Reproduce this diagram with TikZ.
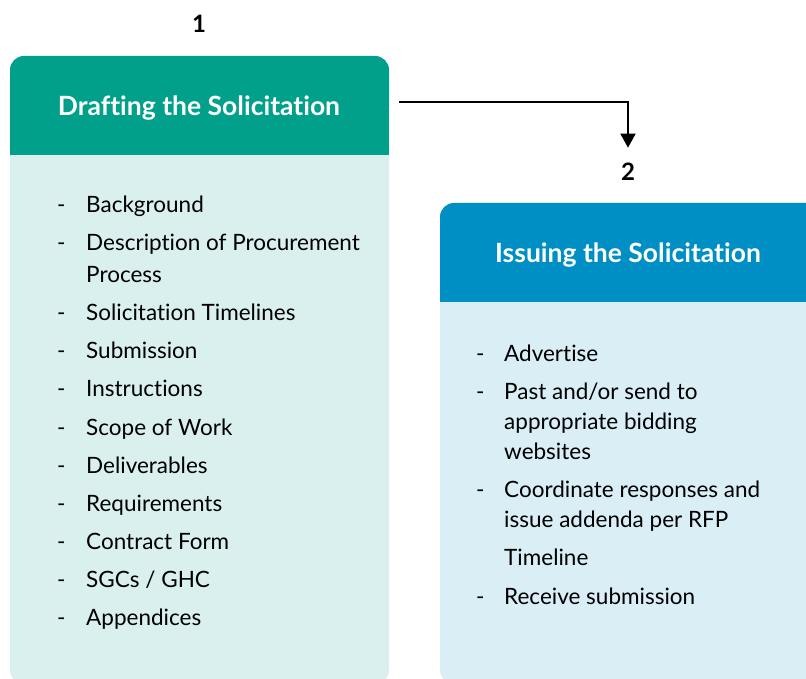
\documentclass[tikz,border=0pt]{standalone}
\usepackage{fontspec}
\setmainfont{Lato}[Ligatures=NoCommon]
\usetikzlibrary{arrows.meta}
\definecolor{tealhead}{HTML}{00A08A}
\definecolor{tealbody}{HTML}{DAF0EE}
\definecolor{bluehead}{HTML}{008FC5}
\definecolor{bluebody}{HTML}{DAEEF6}
\tikzset{
  title/.style={text=white,font=\fontsize{26.5}{30}\selectfont\bfseries},
  num/.style={font=\fontsize{24}{26}\selectfont\bfseries},
  item/.style={anchor=base west,inner sep=0pt,font=\fontsize{22.5}{26}\selectfont},
  dashmark/.style={anchor=base west,inner sep=0pt,font=\fontsize{22.5}{26}\selectfont},
}
\begin{document}
\begin{tikzpicture}[x=1pt,y=-1pt]
\useasboundingbox (0,0) rectangle (806,679);
\begin{scope}
\clip (0,0) rectangle (806,679);
% step 1 box
\fill [tealbody,rounded corners=14pt] (10,56) rectangle (389,684);
\fill [tealhead,rounded corners=14pt] (10,56) rectangle (389,120);
\fill [tealhead] (10,100) rectangle (389,155);
% step 2 box
\fill [bluebody,rounded corners=14pt] (440,203) rectangle (830,684);
\fill [bluehead,rounded corners=14pt] (440,203) rectangle (830,260);
\fill [bluehead] (440,240) rectangle (830,302);
\end{scope}
%
\node [num] (n1) at (199,24) {1};
\node [num] (n2) at (628,172) {2};
\node [title] (h1) at (199,108) {Drafting the Solicitation};
\node [title] (h2) at (628,255) {Issuing the Solicitation};
%
\coordinate (out1) at (399,102);
\draw [line width=1.5pt,-{Triangle[length=14pt,width=15pt]}] (out1) -| ([yshift=12pt]n2.north);
% drafting list
\foreach \i/\y in {1/213,2/251,4/320,5/358,6/396,7/435,8/473,9/511,10/549,11/587,12/625}
  \node [dashmark] (ld\i) at (57,\y) {-};
\foreach \i/\y/\t in {1/213/Background,2/251/Description of Procurement,3/282/Process,4/320/Solicitation Timelines,5/358/Submission,6/396/Instructions,7/435/Scope of Work,8/473/Deliverables,9/511/Requirements,10/549/Contract Form,11/587/{SGCs / GHC},12/625/Appendices}
  \node [item] (l\i) at (86,\y) {\t};
% issuing list
\foreach \i/\y in {1/361,2/399,5/497,8/604}
  \node [dashmark] (rd\i) at (476,\y) {-};
\foreach \i/\y/\t in {1/361/Advertise,2/399/{Past and/or send to},3/429/appropriate bidding,4/459/websites,5/497/Coordinate responses and,6/527/issue addenda per RFP,7/565/Timeline,8/604/Receive submission}
  \node [item] (r\i) at (504,\y) {\t};
\end{tikzpicture}
\end{document}
